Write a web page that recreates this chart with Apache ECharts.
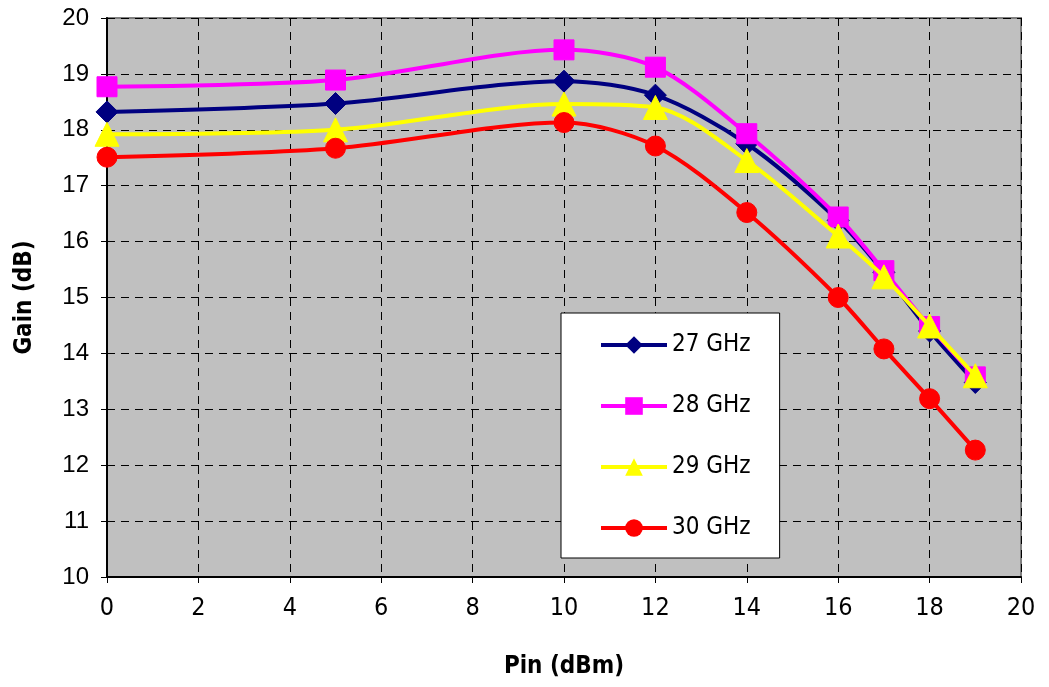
<!DOCTYPE html>
<html><head><meta charset="utf-8">
<script src="https://cdn.jsdelivr.net/npm/echarts@6/dist/echarts.min.js"></script>
<style>html,body{margin:0;padding:0;background:#fff}#c{width:1049px;height:687px}</style>
</head><body><div id="c"></div>
<script>
var pin = [0, 5, 10, 12, 14, 16, 17, 18, 19];
var gain27 = [18.32, 18.47, 18.87, 18.62, 17.75, 16.38, 15.45, 14.40, 13.48];
var gain28 = [18.77, 18.89, 19.43, 19.12, 17.93, 16.44, 15.48, 14.48, 13.58];
var gain29 = [17.92, 18.00, 18.46, 18.40, 17.45, 16.10, 15.37, 14.49, 13.60];
var gain30 = [17.51, 17.67, 18.13, 17.71, 16.52, 15.00, 14.08, 13.19, 12.27];
var seriesNames = ['27 GHz', '28 GHz', '29 GHz', '30 GHz'];
var xTicks = [0, 2, 4, 6, 8, 10, 12, 14, 16, 18, 20];
var yTicks = [10, 11, 12, 13, 14, 15, 16, 17, 18, 19, 20];

function pairs(ys){ return pin.map(function(x,i){return [x, ys[i]];}); }
var colors = ['#000080', '#FF00FF', '#FFFF00', '#FF0000'];
var symbols = ['diamond', 'rect', 'triangle', 'circle'];
var sizes = [22, 20, 24, 20];
var data = [gain27, gain28, gain29, gain30];

var chart = echarts.init(document.getElementById('c'));
var narrow = '"Liberation Sans Narrow", "DejaVu Sans Condensed", "Liberation Sans", Arial, sans-serif';
chart.setOption({
  animation: false,
  backgroundColor: '#ffffff',
  grid: { left: 107, right: 28, top: 18, bottom: 110, show: true,
          backgroundColor: '#C0C0C0', borderColor: '#808080', borderWidth: 2 },
  legend: {
    left: 561, top: 313,
    orient: 'vertical', itemGap: 37, padding: [20, 29, 18, 38],
    backgroundColor: '#ffffff', borderColor: '#000000', borderWidth: 1,
    itemWidth: 66, itemHeight: 22,
    lineStyle: { width: 4 },
    textStyle: { fontFamily: narrow, fontSize: 24, color: '#000', padding: [0, 0, 0, 0] },
    data: seriesNames
  },
  xAxis: {
    type: 'value', min: 0, max: 20, interval: 2,
    name: 'Pin (dBm)', nameLocation: 'middle', nameGap: 78,
    nameTextStyle: { fontFamily: narrow, fontSize: 24, fontWeight: 'bold', color: '#000' },
    axisLine: { show: true, lineStyle: { color: '#000', width: 2 } },
    axisTick: { show: true, inside: false, length: 6, lineStyle: { color: '#000' } },
    axisLabel: { fontFamily: narrow, fontSize: 25, color: '#000', margin: 19 },
    splitLine: { show: true, lineStyle: { color: '#000', type: [8, 6], width: 1 } }
  },
  yAxis: {
    type: 'value', min: 10, max: 20, interval: 1,
    name: 'Gain (dB)', nameLocation: 'middle', nameGap: 70, nameRotate: 90,
    nameTextStyle: { fontFamily: narrow, fontSize: 24, fontWeight: 'bold', color: '#000' },
    axisLine: { show: true, lineStyle: { color: '#000', width: 2 } },
    axisTick: { show: true, inside: false, length: 6, lineStyle: { color: '#000' } },
    axisLabel: { fontFamily: '"Liberation Sans", Arial, sans-serif', fontSize: 24, color: '#000', margin: 18 },
    splitLine: { show: true, lineStyle: { color: '#000', type: [8, 6], width: 1 } }
  },
  series: data.map(function(d, i){
    return {
      name: seriesNames[i], type: 'line', data: pairs(d), smooth: 0.3,
      symbol: symbols[i], symbolSize: sizes[i],
      lineStyle: { color: colors[i], width: 4 },
      itemStyle: { color: colors[i], borderColor: colors[i] },
      z: 2 + (i===2?3:i)
    };
  })
});
</script></body></html>
